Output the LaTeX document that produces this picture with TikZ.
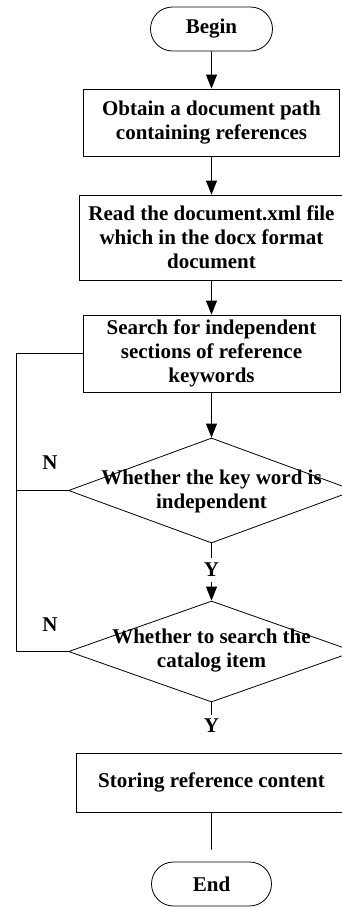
\documentclass[tikz,border=0pt]{standalone}
\usepackage{fontspec}
\setmainfont{Liberation Serif}
\usetikzlibrary{shapes.geometric,shapes.misc,arrows.meta}
\begin{document}
\begin{tikzpicture}[x=1pt,y=-1pt,
 every node/.style={font=\fontsize{21}{24}\selectfont\bfseries, inner sep=0pt, align=center},
 boxnode/.style={draw, rectangle, line width=0.8pt},
 term/.style={draw, rounded rectangle, line width=0.8pt, minimum width=122pt, minimum height=44pt},
 dec/.style={draw, diamond, line width=0.8pt, minimum width=286pt},
 lbl/.style={inner sep=5pt},
 arr/.style={line width=0.8pt, -{Triangle[length=14pt,width=11pt]}},
 ln/.style={line width=0.8pt}]
\useasboundingbox (0,0) rectangle (342,908);
\clip (0,0) rectangle (342,908);
\node[term] (begin) at (211.5,29) {Begin};
\node[boxnode, minimum width=256pt, minimum height=67pt] (b1) at (211.5,122.5) {Obtain a document path\\containing references};
\node[boxnode, minimum width=264pt, minimum height=85pt] (b2) at (211.5,237.5) {Read the document.xml file\\which in the docx format\\document};
\node[boxnode, minimum width=257pt, minimum height=77pt] (b3) at (211.5,353.5) {Search for independent\\sections of reference\\keywords};
\node[dec, minimum height=105pt] (d1) at (211.5,490.5) {};
\node (t1) at (211.5,491) {Whether the key word is\\independent};
\node[lbl] (y1) at (211.5,570) {Y};
\node[dec, minimum height=101pt] (d2) at (211.5,651.5) {};
\node (t2) at (211.5,651) {Whether to search the\\catalog item};
\node[lbl, inner ysep=4pt] (y2) at (211.5,726) {Y};
\node[boxnode, minimum width=270pt, minimum height=59pt] (b4) at (211.5,782.5) {Storing reference content};
\node[term, minimum width=120pt] (fin) at (211.5,884) {End};
\node (n1) at (50,463) {N};
\node (n2) at (50,625) {N};
\coordinate (lt) at (16,353.5);
\coordinate (lb) at (16,651.5);
\draw[arr] (begin) -- (b1);
\draw[arr] (b1) -- (b2);
\draw[arr] (b2) -- (b3);
\draw[arr] (b3) -- (d1);
\draw[ln] (d1) -- (y1);
\draw[arr] (y1) -- (d2);
\draw[ln] (d2) -- (y2);
\draw[ln, shorten >=12pt] (b4) -- (fin);
\draw[ln] (b3.west) -- (lt) -- (lb) -- (d2.west);
\draw[ln] (d1.west) -- (d1.west -| lt);
\end{tikzpicture}
\end{document}
